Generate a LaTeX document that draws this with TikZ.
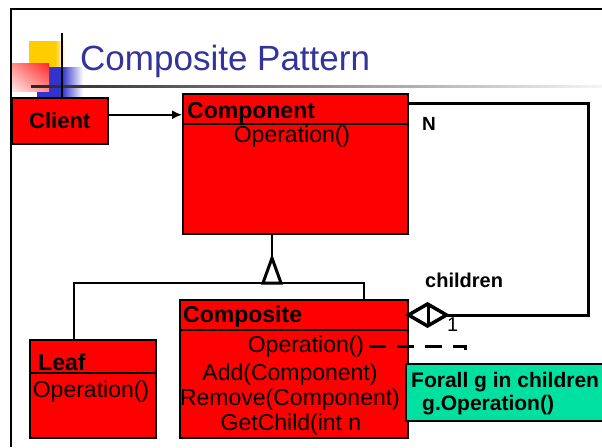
\documentclass[tikz,border=0pt]{standalone}
\usepackage{fontspec}
\setmainfont{Liberation Sans}
\usetikzlibrary{shapes.geometric,arrows.meta,shadings}
\definecolor{umlred}{RGB}{255,0,0}
\definecolor{notegreen}{RGB}{0,224,160}
\definecolor{titleblue}{RGB}{51,51,153}
\definecolor{logoyellow}{RGB}{255,204,0}
\definecolor{logoblue}{RGB}{51,51,204}
\tikzstyle{classbox} = [rectangle, draw, fill=umlred, line width=1.5pt,
    inner sep=0pt, anchor=north west]
\tikzstyle{classname} = [font=\fontsize{23}{27}\selectfont\bfseries,
    inner sep=0pt, anchor=base west]
\tikzstyle{method} = [font=\fontsize{23}{27}\selectfont, inner sep=0pt, anchor=base]
\tikzstyle{tag} = [font=\fontsize{20}{24}\selectfont\bfseries, inner sep=0pt, anchor=base west]
\tikzstyle{line} = [draw, line width=2pt]
\tikzstyle{aggline} = [draw, line width=3pt]
\tikzstyle{dashline} = [draw, line width=3pt, dash pattern=on 17pt off 11pt]

\begin{document}
\begin{tikzpicture}[x=1pt, y=-1pt]
    \useasboundingbox (0,0) rectangle (602,447);
    % Slide frame and logo
    \draw[line width=2pt] (11,447) -- (11,9) -- (603,9);
    \fill[logoyellow] (29,41) rectangle (55,67);
    \shade[left color=logoyellow, right color=white] (55,41) rectangle (65,67);
    \fill[logoblue] (37,67) rectangle (62,97);
    \shade[left color=logoblue, right color=white] (62,67) rectangle (83,97);
    \shade[upper right=red!85, upper left=red!45, lower right=red!45, lower left=red!10]
        (12,63) rectangle (49,91);
    \shade[left color=black!85, right color=black!4] (31,85) rectangle (602,87);
    \draw[line width=2pt] (62,33) -- (62,97);
    \node[anchor=base west, inner sep=0pt, text=titleblue,
        font=\fontsize{35}{40}\selectfont] (title) at (80,70) {Composite Pattern};

    % Place nodes
    \node[classbox, minimum width=96pt, minimum height=46pt,
        font=\fontsize{22}{26}\selectfont\bfseries] (client) at (11,97) {Client};
    \node[classbox, minimum width=225pt, minimum height=140pt] (component) at (182,93) {};
    \node[classbox, minimum width=228pt, minimum height=138pt] (composite) at (179,299) {};
    \node[classbox, minimum width=126pt, minimum height=98pt] (leaf) at (29,339) {};
    \node[rectangle, draw, fill=notegreen, line width=1.5pt, anchor=north west,
        minimum width=199pt, minimum height=57pt] (note) at (405,363) {};

    \draw[line width=1.5pt] ([yshift=-31pt]component.north west) -- ([yshift=-31pt]component.north east);
    \draw[line width=1.5pt] ([yshift=-31pt]composite.north west) -- ([yshift=-31pt]composite.north east);
    \draw[line width=1.5pt] ([yshift=-34pt]leaf.north west) -- ([yshift=-34pt]leaf.north east);

    \node[classname] (componentname) at (187,118) {Component};
    \node[method] (componentop) at (292,142) {Operation()};
    \node[classname] (compositename) at (183,322) {Composite};
    \node[method] (compositeop) at (306,352) {Operation()};
    \node[method] (compositeadd) at (290,380) {Add(Component)};
    \node[method] (compositeremove) at (290,405) {Remove(Component)};
    \node[method] (compositeget) at (291,430) {GetChild(int n};
    \node[classname] (leafname) at (38,370) {Leaf};
    \node[method] (leafop) at (91,397) {Operation()};
    \node[tag, font=\fontsize{21}{25}\selectfont\bfseries] (notetext1) at (411,387) {Forall g in children};
    \node[tag, font=\fontsize{21}{25}\selectfont\bfseries] (notetext2) at (422,410) {g.Operation()};
    \node[tag, font=\fontsize{19}{23}\selectfont\bfseries] (many) at (422,130) {N};
    \node[tag] (children) at (425,287) {children};
    \node[tag, font=\fontsize{20}{24}\selectfont] (one) at (447,331) {1};
    \coordinate (gentop) at (272,258);
    \coordinate (notehook) at (465,350);

    % Draw edges
    \draw[line width=1.5pt, -{Latex[length=10pt, width=9pt]}]
        ([yshift=6pt]client.east) -- ([yshift=6pt]client.east -| component.west);
    \path[aggline] ([yshift=-16pt]composite.north east) -- ++(180,0)
        |- ([yshift=-10pt]component.north east);
    \draw[line width=3.5pt, fill=white] ([yshift=-16pt]composite.north east) -- ++(19,-11)
        -- ++(19,11) -- ++(-19,11) -- cycle;
    \draw[line width=3pt] ([xshift=20pt,yshift=-5pt]composite.north east) -- ++(0,22);
    \path[line] ([xshift=45pt]leaf.north west) -- ++(0,-56)
        -| ([xshift=-45pt]composite.north east);
    \path[line] (gentop) -- (gentop |- component.south);
    \draw[line width=3pt, fill=white, line join=miter] (gentop) -- ++(-9,25) -- ++(18,0) -- cycle;
    \path[dashline] ([xshift=5pt]compositeop.east) -| (notehook);
\end{tikzpicture}
\end{document}
